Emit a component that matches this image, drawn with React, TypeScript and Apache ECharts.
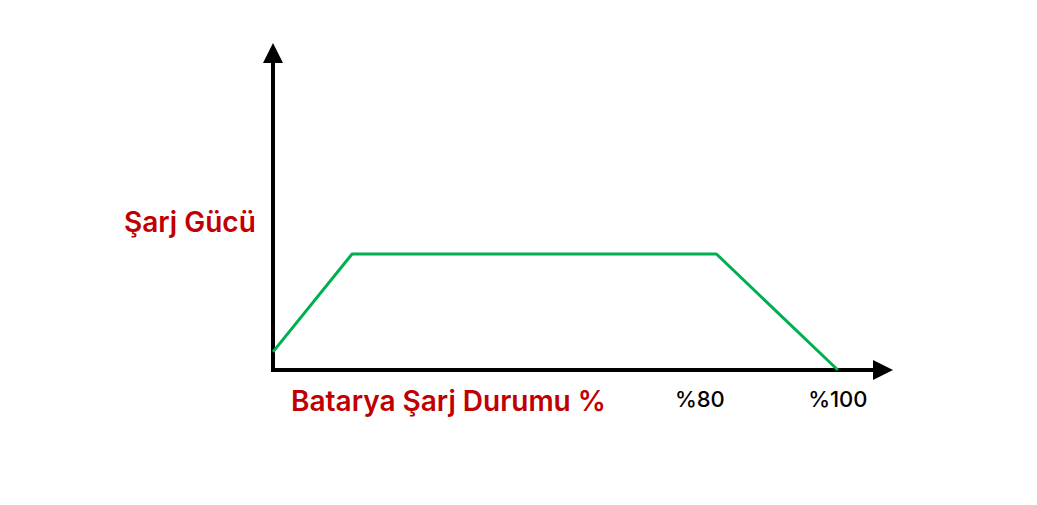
import React, { useEffect, useRef } from "react";
import * as echarts from "echarts";

const soc: number[] = [0, 14, 78.5, 100];
const power: number[] = [5.7, 36.6, 36.6, 0];
const tickValues: number[] = [80, 100];
const tickLabels: string[] = ["%80", "%100"];
const yTitle = "Şarj Gücü";
const xTitle = "Batarya Şarj Durumu %";

const RED = "#c00000";
const GREEN = "#00b050";
const FONT = "Inter, 'Noto Sans', sans-serif";

export default function App() {
  const ref = useRef<HTMLDivElement>(null);
  useEffect(() => {
    if (!ref.current) return;
    const chart = echarts.init(ref.current, null, { renderer: "svg" });
    const data = soc.map((x, i) => [x, power[i]]);
    chart.setOption({
      animation: false,
      backgroundColor: "#ffffff",
      grid: { left: 273, right: 154, top: 53, bottom: 135, containLabel: false },
      xAxis: {
        type: "value",
        min: 0,
        max: 108,
        interval: 4,
        axisLine: {
          show: true,
          symbol: ["none", "triangle"],
          symbolSize: [20, 20],
          lineStyle: { color: "#000", width: 4, cap: "square" },
        },
        axisTick: { show: false },
        splitLine: { show: false },
        axisLabel: {
          show: true,
          margin: 18,
          color: "#000",
          fontFamily: FONT,
          fontSize: 22,
          fontWeight: 500,
          formatter: (v: number) => {
            const idx = tickValues.indexOf(v);
            if (idx < 0) return "";
            if (idx === 0) return "{r|" + tickLabels[idx] + "}";
            return tickLabels[idx];
          },
          rich: {
            r: {
              color: "#000",
              fontFamily: FONT,
              fontSize: 22,
              fontWeight: 500,
              padding: [0, 50, 0, 0],
            },
          },
        },
      },
      yAxis: {
        type: "value",
        min: 0,
        max: 100,
        axisLine: {
          show: true,
          symbol: ["none", "triangle"],
          symbolSize: [20, 20],
          lineStyle: { color: "#000", width: 4, cap: "square" },
        },
        axisTick: { show: false },
        splitLine: { show: false },
        axisLabel: { show: false },
      },
      graphic: [
        {
          type: "text",
          left: 124,
          top: 208,
          style: {
            text: yTitle,
            fill: RED,
            font: `600 28px ${FONT}`,
          },
        },
        {
          type: "text",
          left: 291,
          top: 387,
          style: {
            text: xTitle,
            fill: RED,
            font: `600 28px ${FONT}`,
          },
        },
      ],
      series: [
        {
          type: "line",
          data,
          symbol: "none",
          lineStyle: { color: GREEN, width: 3 },
          clip: false,
          z: 1,
        },
      ],
    });
    return () => chart.dispose();
  }, []);
  return (
    <div
      ref={ref}
      style={{ position: "absolute", left: 0, top: 0, width: 1037, height: 505, background: "#fff" }}
    />
  );
}
